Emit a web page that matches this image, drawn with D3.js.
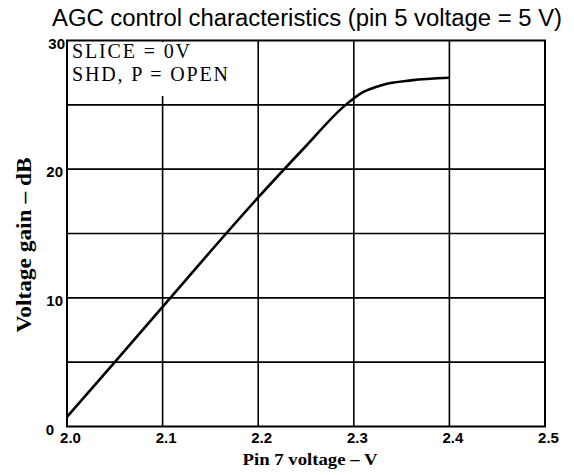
<!DOCTYPE html>
<html><head><meta charset="utf-8">
<script src="https://cdn.jsdelivr.net/npm/d3@7"></script>
<style>html,body{margin:0;padding:0;background:#fff;}svg{display:block;}</style>
</head><body>
<svg id="c" width="574" height="475"></svg>
<script>
const title = "AGC control characteristics (pin 5 voltage = 5 V)";
const xLabel = "Pin 7 voltage – V";
const yLabel = "Voltage gain – dB";
const legendLines = ["SLICE = 0V", "SHD, P = OPEN"];
const xTicks = [2.0, 2.1, 2.2, 2.3, 2.4, 2.5];
const xTickLabels = ["2.0", "2.1", "2.2", "2.3", "2.4", "2.5"];
const yTicks = [0, 10, 20, 30];
const yGrid = [5, 10, 15, 20, 25];
const voltage = [2.0, 2.05, 2.1, 2.15, 2.2, 2.25, 2.29, 2.31, 2.33, 2.36, 2.4];
const gain = [0.75, 5.0, 9.3, 13.6, 17.8, 21.8, 24.9, 26.0, 26.55, 26.9, 27.1];

const svg = d3.select("#c");
const L = 67, R = 545, T = 40.5, B = 426.5;
const x = d3.scaleLinear().domain([2.0, 2.5]).range([L, R]);
const y = d3.scaleLinear().domain([0, 30]).range([B, T]);

// grid
const g = svg.append("g");
g.selectAll("line.v").data(xTicks.slice(1, -1)).join("line")
  .attr("x1", d => x(d)).attr("x2", d => x(d)).attr("y1", T).attr("y2", B)
  .attr("stroke", "#000").attr("stroke-width", 1.6);
g.selectAll("line.h").data(yGrid).join("line")
  .attr("x1", L).attr("x2", R).attr("y1", d => y(d)).attr("y2", d => y(d))
  .attr("stroke", "#000").attr("stroke-width", 1.6);

// legend white box
svg.append("rect").attr("x", x(2.0) + 1.5).attr("y", y(30) + 1.5)
  .attr("width", x(2.19) - x(2.0)).attr("height", y(25.8) - y(30))
  .attr("fill", "#fff");
svg.selectAll("text.leg").data(legendLines).join("text")
  .attr("x", 72).attr("y", (d, i) => 58 + i * 23)
  .attr("font-family", "Liberation Serif, DejaVu Serif, serif")
  .attr("font-size", 20)
  .attr("textLength", (d, i) => i === 0 ? 118 : 156)
  .attr("lengthAdjust", "spacing")
  .text(d => d);

// frame
svg.append("rect").attr("x", L).attr("y", T).attr("width", R - L).attr("height", B - T)
  .attr("fill", "none").attr("stroke", "#000").attr("stroke-width", 2);

// curve
const pts = voltage.map((v, i) => [v, gain[i]]);
svg.append("path").datum(pts)
  .attr("d", d3.line().x(d => x(d[0])).y(d => y(d[1])).curve(d3.curveMonotoneX))
  .attr("fill", "none").attr("stroke", "#000").attr("stroke-width", 2.6);

// axes labels
const xAxis = d3.axisBottom(x).tickValues(xTicks).tickFormat((d, i) => xTickLabels[i]).tickSize(0).tickPadding(6);
const xa = svg.append("g").attr("transform", `translate(0,${B})`).call(xAxis);
xa.select(".domain").remove();
xa.selectAll("text").attr("font-family", "Liberation Sans, Arial, sans-serif").attr("font-weight", "bold")
  .attr("font-size", 15).attr("fill", "#000").attr("dx", 3);

const yAxis = d3.axisLeft(y).tickValues(yTicks).tickFormat(d3.format("d")).tickSize(0).tickPadding(4);
const ya = svg.append("g").attr("transform", `translate(${L},0)`).call(yAxis);
ya.select(".domain").remove();
ya.selectAll("text").attr("font-family", "Liberation Sans, Arial, sans-serif").attr("font-weight", "bold")
  .attr("font-size", 15).attr("fill", "#000").attr("dy", "0.5em")
  .attr("dx", d => d === 0 ? -9 : (d === 30 ? 2 : 0));

svg.append("text").attr("x", 310).attr("y", 465).attr("text-anchor", "middle")
  .attr("font-family", "Liberation Serif, Times New Roman, serif").attr("font-weight", "bold")
  .attr("font-size", 17).attr("textLength", 135).attr("lengthAdjust", "spacingAndGlyphs").text(xLabel);
svg.append("text").attr("transform", "translate(31,245) rotate(-90)").attr("text-anchor", "middle")
  .attr("font-family", "Liberation Serif, Times New Roman, serif").attr("font-weight", "bold")
  .attr("font-size", 21).attr("textLength", 175).attr("lengthAdjust", "spacingAndGlyphs").text(yLabel);

svg.append("text").attr("x", 52).attr("y", 26)
  .attr("font-family", "Liberation Sans, Arial, sans-serif")
  .attr("font-size", 23).attr("textLength", 510).attr("lengthAdjust", "spacingAndGlyphs").text(title);
</script>
</body></html>
